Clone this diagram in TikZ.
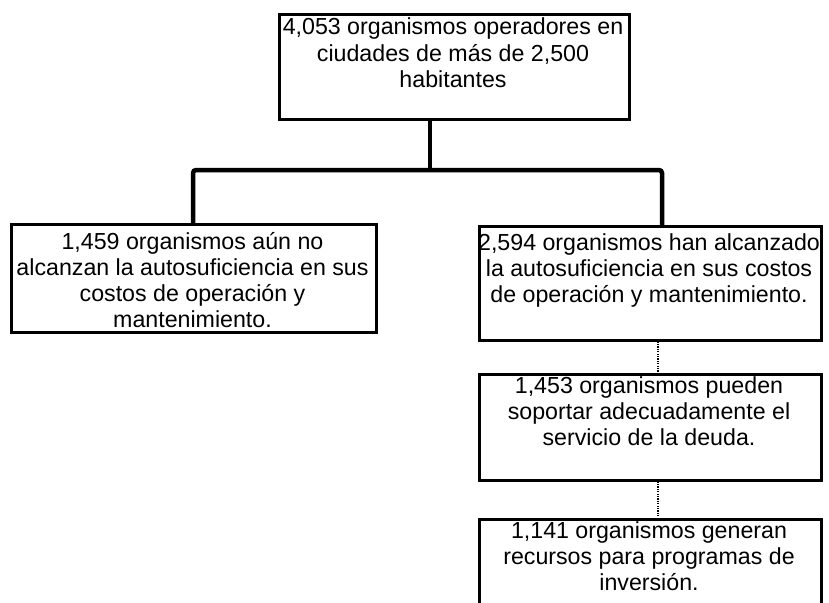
\documentclass[tikz,border=0pt]{standalone}
\usepackage{fontspec}
\setmainfont{Liberation Sans}
\newcommand\tb[2]{\parbox[t]{#1}{\centering\fontsize{23.2pt}{26pt}\selectfont #2}}
\begin{document}
\begin{tikzpicture}[x=1pt,y=-1pt,
  box/.style={draw, line width=2.6pt, rectangle, inner sep=0pt, anchor=north west},
  conn/.style={line width=4.5pt, rounded corners=3pt},
  dotconn/.style={line width=1.8pt, dash pattern=on 1.2pt off 1.2pt},
  txt/.style={anchor=base, inner sep=0pt}]
\useasboundingbox (0,0) rectangle (829,602);
\clip (0,0) rectangle (829,602);
\node[box, minimum width=350pt, minimum height=105pt] (top) at (278,13) {};
\node[box, minimum width=365pt, minimum height=108pt] (lbox) at (10,223) {};
\node[box, minimum width=342pt, minimum height=114pt] (rbox) at (478,225) {};
\node[box, minimum width=342pt, minimum height=106pt] (box2) at (478,373) {};
\node[box, minimum width=342pt, minimum height=130pt] (box3) at (478,518) {};

\node[txt] (toptext) at (453,35) {\tb{360pt}{4,053 organismos operadores en\\ ciudades de más de 2,500\\ habitantes}};
\node[txt] (ltext) at (192.5,249) {\tb{380pt}{1,459 organismos aún no\\ alcanzan la autosuficiencia en sus\\ costos de operación y\\ mantenimiento.}};
\node[txt] (rtext) at (649,250) {\tb{350pt}{2,594 organismos han alcanzado\\ la autosuficiencia en sus costos\\ de operación y mantenimiento.}};
\node[txt] (text2) at (649,393) {\tb{350pt}{1,453 organismos pueden\\ soportar adecuadamente el\\ servicio de la deuda.}};
\node[txt] (text3) at (649,538) {\tb{350pt}{1,141 organismos generan\\ recursos para programas de\\ inversión.}};

\coordinate (hub) at (430,170);
\coordinate (lx) at (193,0);
\coordinate (rx) at (662,0);
\coordinate (dx) at (658,0);
\draw[conn] (top.south -| hub) -- (hub);
\draw[conn] (lbox.north -| lx) |- (hub) -| (rbox.north -| rx);
\draw[dotconn] (rbox.south -| dx) -- (box2.north -| dx);
\draw[dotconn] (box2.south -| dx) -- (box3.north -| dx);
\end{tikzpicture}
\end{document}
